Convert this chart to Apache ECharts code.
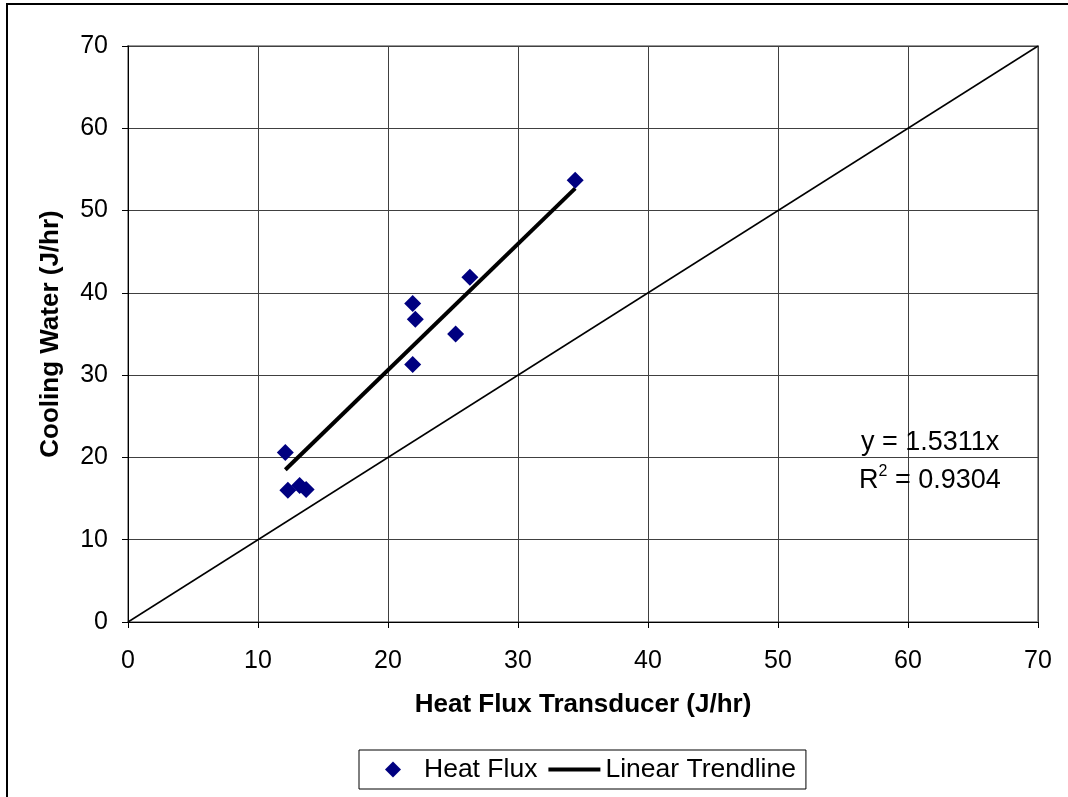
<!DOCTYPE html>
<html>
<head>
<meta charset="utf-8">
<script src="https://cdn.jsdelivr.net/npm/echarts@6/dist/echarts.min.js"></script>
<style>
html,body{margin:0;padding:0;background:#fff;}
#c{width:1068px;height:797px;}
</style>
</head>
<body>
<div id="c"></div>
<script>
// Data
const heatFlux = [34.4, 26.3, 21.9, 22.1, 25.2, 21.9, 12.1, 12.3, 13.2, 13.7];
const coolingWater = [53.7, 41.9, 38.7, 36.8, 35.0, 31.3, 20.6, 16.0, 16.6, 16.1];
const trendX = [12.1, 34.4];
const trendY = [18.5, 52.7];
const diagX = [0, 70];
const diagY = [0, 70];
const axisTicks = [0, 10, 20, 30, 40, 50, 60, 70];
const equationText = 'y = 1.5311x';
const r2Text = '0.9304';

const font = '"Liberation Sans", Arial, sans-serif';
const chart = echarts.init(document.getElementById('c'));

const pts = heatFlux.map((x, i) => [x, coolingWater[i]]);
const trend = trendX.map((x, i) => [x, trendY[i]]);
const diag = diagX.map((x, i) => [x, diagY[i]]);

const axisCommon = {
  type: 'value',
  min: axisTicks[0],
  max: axisTicks[axisTicks.length - 1],
  interval: axisTicks[1] - axisTicks[0],
  axisLine: { show: true, onZero: false, lineStyle: { color: '#000', width: 1 } },
  axisTick: { show: true, inside: false, length: 6, lineStyle: { color: '#000' } },
  splitLine: { show: true, lineStyle: { color: '#404040', width: 1 } },
  axisLabel: { color: '#000', fontSize: 25, fontFamily: font },
  nameLocation: 'middle',
  nameTextStyle: { color: '#000', fontSize: 26, fontWeight: 'bold', fontFamily: font }
};

chart.setOption({
  animation: false,
  backgroundColor: '#fff',
  grid: {
    left: 128, top: 46, width: 910, height: 576,
    show: true, borderColor: '#999', borderWidth: 2, backgroundColor: 'transparent'
  },
  xAxis: Object.assign({}, axisCommon, {
    name: 'Heat Flux Transducer (J/hr)',
    nameGap: 70,
    axisLabel: Object.assign({}, axisCommon.axisLabel, { margin: 27 })
  }),
  yAxis: Object.assign({}, axisCommon, {
    name: 'Cooling Water (J/hr)',
    nameGap: 64,
    axisLabel: Object.assign({}, axisCommon.axisLabel, { margin: 20 })
  }),
  legend: {
    left: 359, top: 750,
    padding: [6, 10, 6, 26],
    borderColor: '#000', borderWidth: 1,
    itemGap: 11, itemWidth: 52, itemHeight: 16,
    symbolKeepAspect: true,
    textStyle: { color: '#000', fontSize: 26.5, fontFamily: font },
    data: [
      { name: 'Heat Flux', icon: 'path://M0,8 L8,0 L16,8 L8,16 Z', itemStyle: { color: '#000080' } },
      { name: 'Linear Trendline', icon: 'path://M0,0 L52,0 L52,4 L0,4 Z', itemStyle: { color: '#000' } }
    ]
  },
  graphic: [
    {
      type: 'rect', silent: true, z: 100,
      shape: { x: 7, y: 4, width: 1200, height: 900 },
      style: { fill: 'none', stroke: '#000', lineWidth: 2 }
    },
    {
      type: 'text', left: 861, top: 429, z: 100,
      style: { text: equationText, fill: '#000', font: '27px ' + font }
    },
    {
      type: 'text', left: 859, top: 464, z: 100,
      style: {
        text: '{a|R}{s|2}{a| = ' + r2Text + '}',
        rich: {
          a: { fontSize: 27, fontFamily: font, fill: '#000', color: '#000', verticalAlign: 'bottom' },
          s: { fontSize: 16, fontFamily: font, fill: '#000', color: '#000', verticalAlign: 'top', padding: [0, 0, 14, 0] }
        }
      }
    }
  ],
  series: [
    {
      name: 'Diagonal', type: 'line', data: diag, symbol: 'none',
      lineStyle: { color: '#000', width: 1.5 }, z: 2, silent: true
    },
    {
      name: 'Linear Trendline', type: 'line', data: trend, symbol: 'none',
      lineStyle: { color: '#000', width: 4 }, itemStyle: { color: '#000' }, z: 3
    },
    {
      name: 'Heat Flux', type: 'scatter', data: pts, symbol: 'diamond', symbolSize: 17,
      itemStyle: { color: '#000080', opacity: 1 }, z: 4
    }
  ]
});
</script>
</body>
</html>
